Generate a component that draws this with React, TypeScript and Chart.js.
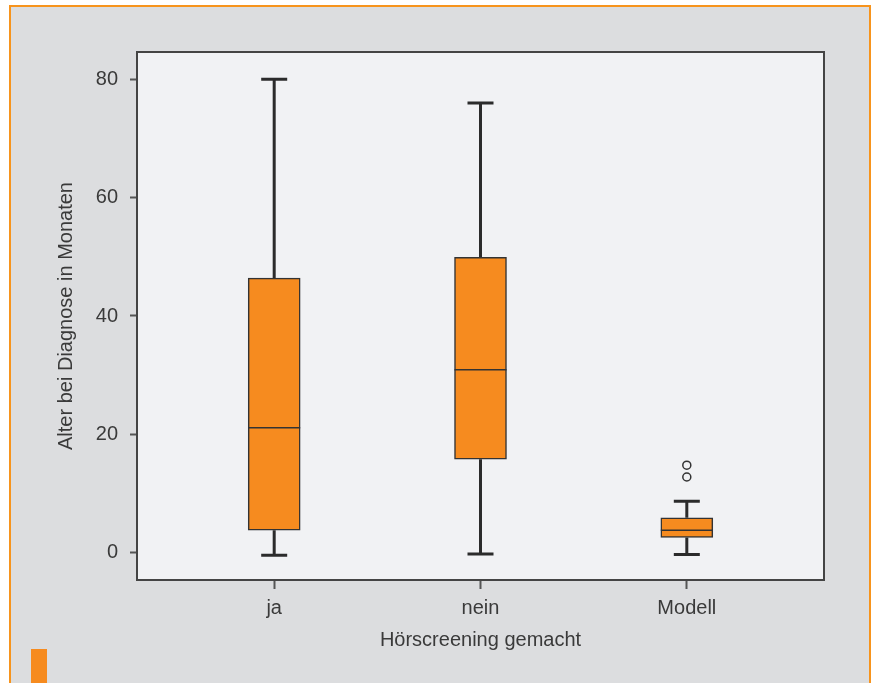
import React, { useEffect, useRef } from "react";
import { Chart, registerables } from "chart.js";

Chart.register(...registerables);

const categories = ["ja", "nein", "Modell"];
const whiskerLow = [-0.4, -0.2, -0.3];
const q1 = [3.8, 15.8, 2.6];
const median = [21.1, 30.9, 3.8];
const q3 = [46.4, 49.9, 5.9];
const whiskerHigh = [80, 76.0, 8.7];
const outlierCategory = [2, 2];
const outlierValues = [14.8, 12.8];
const yTicks = [0, 20, 40, 60, 80];

const ORANGE = "#f68b1f";
const TEXT = "#3a3a3a";
const AXIS = "#444444";
const FONT = "'Liberation Sans', Arial, sans-serif";

const boxPlugin = {
  id: "boxExtras",
  beforeDatasetsDraw(chart: any) {
    const { ctx, chartArea } = chart;
    ctx.save();
    ctx.fillStyle = "#f1f2f4";
    ctx.fillRect(chartArea.left, chartArea.top, chartArea.right - chartArea.left, chartArea.bottom - chartArea.top);
    const x = chart.scales.x;
    const y = chart.scales.y;
    ctx.strokeStyle = "#2b2b2b";
    ctx.lineWidth = 3;
    categories.forEach((_, i) => {
      const px = x.getPixelForValue(i);
      ctx.beginPath();
      ctx.moveTo(px, y.getPixelForValue(whiskerLow[i]));
      ctx.lineTo(px, y.getPixelForValue(q1[i]));
      ctx.moveTo(px, y.getPixelForValue(q3[i]));
      ctx.lineTo(px, y.getPixelForValue(whiskerHigh[i]));
      ctx.moveTo(px - 13, y.getPixelForValue(whiskerLow[i]));
      ctx.lineTo(px + 13, y.getPixelForValue(whiskerLow[i]));
      ctx.moveTo(px - 13, y.getPixelForValue(whiskerHigh[i]));
      ctx.lineTo(px + 13, y.getPixelForValue(whiskerHigh[i]));
      ctx.stroke();
    });
    ctx.restore();
  },
  afterDatasetsDraw(chart: any) {
    const { ctx, chartArea } = chart;
    const x = chart.scales.x;
    const y = chart.scales.y;
    ctx.save();
    ctx.strokeStyle = "#333333";
    ctx.lineWidth = 1.5;
    categories.forEach((_, i) => {
      const px = x.getPixelForValue(i);
      const py = y.getPixelForValue(median[i]);
      ctx.beginPath();
      ctx.moveTo(px - 26, py);
      ctx.lineTo(px + 26, py);
      ctx.stroke();
    });
    ctx.strokeStyle = AXIS;
    ctx.lineWidth = 2;
    ctx.strokeRect(chartArea.left, chartArea.top, chartArea.right - chartArea.left, chartArea.bottom - chartArea.top);
    ctx.restore();
  },
};

export default function App() {
  const ref = useRef<HTMLCanvasElement>(null);
  useEffect(() => {
    if (!ref.current) return;
    const chart = new Chart(ref.current, {
      type: "bar",
      data: {
        datasets: [
          {
            type: "bar",
            data: categories.map((_, i) => ({ x: i, y: [q1[i], q3[i]] })) as any,
            backgroundColor: ORANGE,
            borderColor: "#333333",
            borderWidth: 1.5,
            borderSkipped: false,
            barThickness: 52,
          } as any,
          {
            type: "scatter",
            data: outlierValues.map((v, i) => ({ x: outlierCategory[i], y: v })),
            pointRadius: 4,
            pointBackgroundColor: "rgba(0,0,0,0)",
            pointBorderColor: "#333333",
            pointBorderWidth: 1.5,
          } as any,
        ],
      },
      options: {
        responsive: false,
        animation: false,
        devicePixelRatio: 1,
        layout: { padding: { left: 0, top: 52, right: 52, bottom: 0 } },
        plugins: { legend: { display: false }, tooltip: { enabled: false } },
        scales: {
          x: {
            type: "linear",
            offset: false,
            min: -0.665,
            max: 2.665,
            afterBuildTicks: (s: any) => {
              s.ticks = categories.map((_, i) => ({ value: i }));
            },
            afterFit: (s: any) => {
              s.height = 103;
            },
            ticks: {
              callback: (v: any) => categories[v] ?? "",
              font: { family: FONT, size: 20 },
              color: TEXT,
              padding: 7,
              maxRotation: 0,
            },
            grid: { display: true, offset: false, drawOnChartArea: false, drawTicks: true, tickLength: 9, tickColor: "#555555", tickWidth: 2 },
            border: { display: false },
            title: {
              display: true,
              text: "Hörscreening gemacht",
              font: { family: FONT, size: 20 },
              color: TEXT,
              padding: { top: 0, bottom: 31 },
            },
          },
          y: {
            type: "linear",
            min: -4.6,
            max: 84.6,
            afterBuildTicks: (s: any) => {
              s.ticks = yTicks.map((v) => ({ value: v }));
            },
            afterFit: (s: any) => {
              s.width = 137;
            },
            ticks: {
              font: { family: FONT, size: 20 },
              color: TEXT,
              padding: 12,
            },
            grid: { display: true, drawOnChartArea: false, drawTicks: true, tickLength: 7, tickColor: "#555555", tickWidth: 2 },
            border: { display: false },
            title: {
              display: true,
              text: "Alter bei Diagnose in Monaten",
              font: { family: FONT, size: 20 },
              color: TEXT,
              padding: { top: 54, bottom: 0 },
            },
          },
        },
      } as any,
      plugins: [boxPlugin],
    });
    return () => chart.destroy();
  }, []);

  return (
    <div style={{ position: "fixed", left: 0, top: 0, width: 876, height: 683, background: "#ffffff", overflow: "hidden" }}>
      <div
        style={{
          position: "absolute",
          left: 9,
          top: 5,
          width: 862,
          height: 720,
          boxSizing: "border-box",
          border: "2px solid #f7941d",
          background: "#dcdddf",
        }}
      />
      <div style={{ position: "absolute", left: 31, top: 649, width: 16, height: 40, background: "#f68b1f" }} />
      <canvas ref={ref} width={876} height={683} style={{ position: "absolute", left: 0, top: 0, width: 876, height: 683 }} />
    </div>
  );
}
